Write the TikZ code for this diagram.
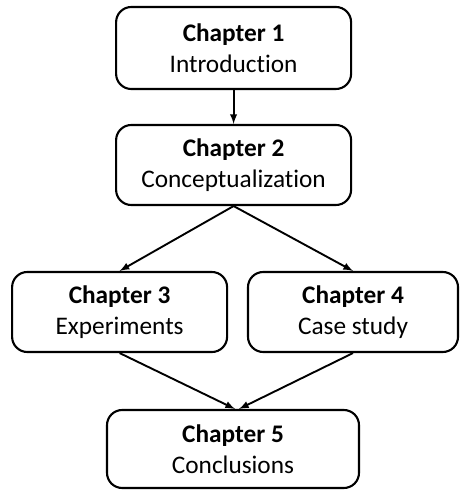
\documentclass[tikz,border=0pt]{standalone}
\usepackage{fontspec}
\setmainfont[Ligatures=NoCommon]{Carlito}
\usetikzlibrary{arrows}
\tikzset{chapbox/.style={draw, line width=1.5pt, rounded corners=0.38cm, align=center,
  inner sep=0pt, font=\fontsize{18}{22}\selectfont}}
\newcommand{\chap}[2]{\textbf{Chapter #1}\\#2}

\begin{document}
\begin{tikzpicture}[>=latex]
\useasboundingbox (0,0) rectangle (11.525,-12.25);
\node[chapbox, minimum width=5.875cm, minimum height=2.05cm] (ch1) at (5.84,-1.2) {\chap{1}{Introduction}}; %top
\node[chapbox, minimum width=5.875cm, minimum height=2cm] (ch2) at (5.84,-4.125) {\chap{2}{Conceptualization}};
\node[chapbox, minimum width=5.375cm, minimum height=2cm] (ch3) at (2.99,-7.8) {\chap{3}{Experiments}};
\node[chapbox, minimum width=5.25cm, minimum height=2cm] (ch4) at (8.825,-7.8) {\chap{4}{Case study}};
\node[chapbox, minimum width=6.3cm, minimum height=1.95cm] (ch5) at (5.825,-11.225) {\chap{5}{Conclusions}}; %bottom
\draw[->, line width=1.35pt] (ch1.south) -- (ch2.north);
\draw[->, line width=1.35pt] (ch2.south) -- (ch3.north);
\draw[->, line width=1.35pt] (ch2.south) -- (ch4.north);
\draw[->, line width=1.35pt] (ch3.south) -- ([xshift=0.05cm]ch5.north);
\draw[->, line width=1.35pt] (ch4.south) -- ([xshift=0.15cm]ch5.north);
\end{tikzpicture}
\end{document}
